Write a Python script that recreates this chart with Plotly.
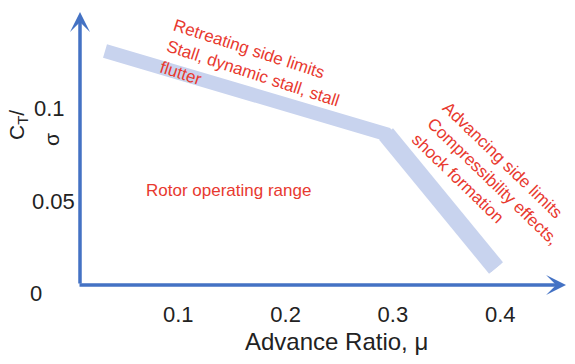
import plotly.graph_objects as go

# Data
boundary_mu = [0.0317, 0.2936, 0.3961]
boundary_ct = [0.1313, 0.0857, 0.0121]
x_ticks = [0.1, 0.2, 0.3, 0.4]
x_ticktext = ["0.1", "0.2", "0.3", "0.4"]
y_ticks = [0, 0.05, 0.1]
y_ticktext = ["0", "0.05", "0.1"]

RED = "#e8392f"
BLUE = "#4472c4"
BAND = "#c8d3ee"
FONT = "Liberation Sans, Arial, sans-serif"

OFF = 8                      # page body margin
W, H = 575 - OFF, 364 - OFF
PL, PR, PT, PB = 80, 566, 12, 295   # plot area in page pixels
L, R, T, B = PL - OFF, W - (PR - OFF), PT - OFF, H - (PB - OFF)


def px(x):
    return (x - PL) / (PR - PL)


def py(y):
    return (PB - y) / (PB - PT)


fig = go.Figure()
# boundary band: retreating-side part and (thicker) advancing-side part
fig.add_trace(go.Scatter(
    x=boundary_mu, y=boundary_ct, mode="lines",
    line=dict(color=BAND, width=14), hoverinfo="skip", showlegend=False,
))
fig.add_trace(go.Scatter(
    x=boundary_mu[1:], y=boundary_ct[1:], mode="lines",
    line=dict(color=BAND, width=18), hoverinfo="skip", showlegend=False,
))

# axis arrows
fig.add_annotation(x=px(80), y=py(12), xref="paper", yref="paper",
                   ax=0, ay=285 - 12, axref="pixel", ayref="pixel",
                   showarrow=True, arrowhead=3, arrowsize=0.95, arrowwidth=3.5,
                   arrowcolor=BLUE, text="")
fig.add_annotation(x=px(566), y=py(285), xref="paper", yref="paper",
                   ax=-(566 - 78), ay=0, axref="pixel", ayref="pixel",
                   showarrow=True, arrowhead=3, arrowsize=0.95, arrowwidth=3.5,
                   arrowcolor=BLUE, text="")

note = dict(xref="paper", yref="paper", showarrow=False,
            xanchor="center", yanchor="middle",
            font=dict(family=FONT, size=17, color=RED))
fig.add_annotation(x=px(253), y=py(73),
                   text="Retreating side limits<br>Stall, dynamic stall, stall<br>flutter",
                   textangle=18, align="left", **note)
fig.add_annotation(x=px(493), y=py(181),
                   text="Advancing side limits<br>Compressibility effects,<br>shock formation",
                   textangle=44, align="left", **note)
fig.add_annotation(x=px(228), y=py(190), text="Rotor operating range", **note)

# y tick labels (placed individually like the original)
ylab_right = [44, 77, 67]
ylab_shift = [-3, -2, 0]
for v, t, xr, sh in zip(y_ticks, y_ticktext, ylab_right, ylab_shift):
    fig.add_annotation(x=px(xr), y=v, xref="paper", yref="y", text=t,
                       showarrow=False, xanchor="right", yanchor="middle",
                       yshift=sh, font=dict(family=FONT, size=22, color="#222"))

# y-axis title (two lines, rotated)
ytitle = dict(xref="paper", yref="paper", showarrow=False, textangle=-90,
              xanchor="center", yanchor="middle",
              font=dict(family=FONT, size=21, color="#222"))
fig.add_annotation(x=px(18), y=py(125), text="C<sub>T</sub>/", **ytitle)
fig.add_annotation(x=px(51), y=py(140), text="σ", **ytitle)

# x-axis title
fig.add_annotation(x=px(336), y=py(341), xref="paper", yref="paper",
                   text="Advance Ratio, μ", showarrow=False,
                   xanchor="center", yanchor="middle",
                   font=dict(family=FONT, size=24, color="#222"))

fig.update_layout(
    width=W, height=H,
    margin=dict(l=L, r=R, t=T, b=B, autoexpand=False),
    plot_bgcolor="white", paper_bgcolor="white",
    font=dict(family=FONT, size=22, color="#222"),
    xaxis=dict(range=[(PL - 71) / 1073, (PR - 71) / 1073],
               tickvals=x_ticks, ticktext=x_ticktext,
               showgrid=False, zeroline=False, showline=False,
               ticks="", ticklabelstandoff=4),
    yaxis=dict(range=[(290 - PB) / 1820, (290 - PT) / 1820],
               tickvals=y_ticks, showticklabels=False,
               showgrid=False, zeroline=False, showline=False, ticks=""),
)

fig.write_html("out.html")
